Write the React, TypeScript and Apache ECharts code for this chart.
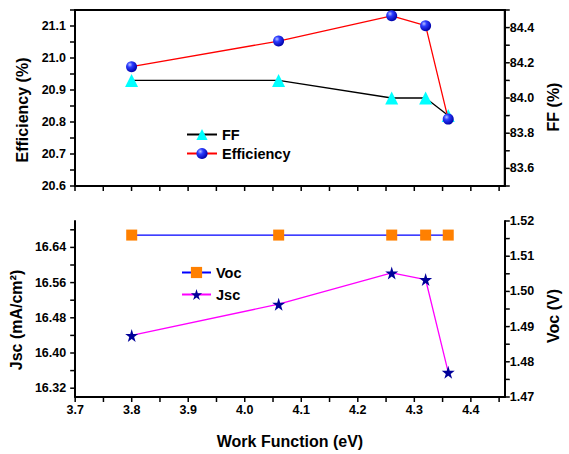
import React, { useEffect, useRef } from 'react';
import * as echarts from 'echarts';

// ---- data ----
const workFunction = [3.8, 4.06, 4.26, 4.32, 4.36];
const efficiency = [20.973, 21.053, 21.132, 21.101, 20.809];
const fillFactor = [84.1, 84.1, 84.0, 84.0, 83.9];
const voc = [1.516, 1.516, 1.516, 1.516, 1.516];
const jsc = [16.44, 16.511, 16.582, 16.567, 16.356];

// ---- tick labels ----
const xLabels = [3.7, 3.8, 3.9, 4.0, 4.1, 4.2, 4.3, 4.4];
const effLabels = [20.6, 20.7, 20.8, 20.9, 21.0, 21.1];
const ffLabels = [83.6, 83.8, 84.0, 84.2, 84.4];
const jscLabels = [16.32, 16.4, 16.48, 16.56, 16.64];
const vocLabels = [1.47, 1.48, 1.49, 1.5, 1.51, 1.52];

// ---- tick marks (major + minor) ----
const xTicks = [3.7, 3.75, 3.8, 3.85, 3.9, 3.95, 4.0, 4.05, 4.1, 4.15, 4.2, 4.25, 4.3, 4.35, 4.4, 4.45];
const effTicks = [20.6, 20.65, 20.7, 20.75, 20.8, 20.85, 20.9, 20.95, 21.0, 21.05, 21.1, 21.15];
const ffTicks = [83.5, 83.6, 83.7, 83.8, 83.9, 84.0, 84.1, 84.2, 84.3, 84.4, 84.5];
const jscTicks = [16.32, 16.36, 16.4, 16.44, 16.48, 16.52, 16.56, 16.6, 16.64, 16.68];
const vocTicks = [1.47, 1.475, 1.48, 1.485, 1.49, 1.495, 1.5, 1.505, 1.51, 1.515, 1.52];

const FONT = "'Liberation Sans', Arial, Helvetica, sans-serif";
const STAR = 'path://M50,0 L61,35 L98,35 L68,57 L79,91 L50,70 L21,91 L32,57 L2,35 L39,35 Z';
const TICK_LEN = 5;

const axisLine = { show: true, onZero: false, lineStyle: { color: '#000', width: 2 } };

function yAxis(
  gridIndex: number,
  position: 'left' | 'right',
  min: number,
  max: number,
  labels: number[],
  digits: number,
  name: string,
  nameGap: number,
  shift: number,
  margin: number
) {
  return {
    type: 'value',
    gridIndex,
    position,
    min,
    max,
    name,
    nameLocation: 'middle',
    nameRotate: 90,
    nameGap,
    nameTextStyle: {
      fontFamily: FONT,
      fontWeight: 'bold',
      fontSize: 16,
      color: '#000',
      padding: [0, shift * 2, 0, 0],
    },
    axisLine,
    axisTick: { show: false },
    axisLabel: {
      show: true,
      customValues: labels,
      margin,
      fontFamily: FONT,
      fontWeight: 'bold',
      fontSize: 12.5,
      color: '#000',
      formatter: (v: number) => v.toFixed(digits),
    },
    splitLine: { show: false },
  };
}

function xAxis(gridIndex: number, showLabels: boolean) {
  return {
    type: 'value',
    gridIndex,
    position: 'bottom',
    min: 3.7,
    max: 4.46,
    name: showLabels ? 'Work Function (eV)' : '',
    nameLocation: 'middle',
    nameGap: 36,
    nameTextStyle: { fontFamily: FONT, fontWeight: 'bold', fontSize: 16, color: '#000' },
    axisLine,
    axisTick: { show: false },
    axisLabel: {
      show: showLabels,
      customValues: xLabels,
      margin: 6,
      fontFamily: FONT,
      fontWeight: 'bold',
      fontSize: 12.5,
      color: '#000',
      formatter: (v: number) => v.toFixed(1),
    },
    splitLine: { show: false },
  };
}

const sphere = new echarts.graphic.RadialGradient(0.35, 0.32, 0.7, [
  { offset: 0, color: '#b8c0ff' },
  { offset: 0.35, color: '#2b3cff' },
  { offset: 1, color: '#0000a8' },
]);

const pairs = (ys: number[]) => workFunction.map((x, i) => [x, ys[i]]);

const legendText = { fontFamily: FONT, fontWeight: 'bold', fontSize: 14.5, color: '#000' };

const yAxes = [
  yAxis(0, 'left', 20.6, 21.15, effLabels, 1, 'Efficiency (%)', 42, 12, 9),
  yAxis(0, 'right', 83.5, 84.5, ffLabels, 1, 'FF (%)', 40, 9, 5),
  yAxis(1, 'left', 16.3, 16.7, jscLabels, 2, 'Jsc (mA/cm²)', 42, 11, 9),
  yAxis(1, 'right', 1.47, 1.52, vocLabels, 2, 'Voc (V)', 37, 7, 5),
];
const xAxes = [xAxis(0, false), xAxis(1, true)];

const option = {
  animation: false,
  backgroundColor: '#fff',
  grid: [
    {
      left: 75,
      top: 10,
      width: 434,
      height: 176,
      show: true,
      borderColor: '#000',
      borderWidth: 2,
      backgroundColor: 'transparent',
    },
    { left: 75, top: 221, width: 437, height: 176 },
  ],
  xAxis: xAxes,
  yAxis: yAxes,
  legend: [
    {
      data: ['FF', 'Efficiency'],
      orient: 'vertical',
      left: 181,
      top: 122,
      itemWidth: 30,
      itemHeight: 14,
      itemGap: 4,
      textStyle: legendText,
    },
    {
      data: ['Voc', 'Jsc'],
      orient: 'vertical',
      left: 176,
      top: 260,
      itemWidth: 29,
      itemHeight: 14,
      itemGap: 7,
      textStyle: legendText,
    },
  ],
  series: [
    {
      name: 'FF',
      type: 'line',
      xAxisIndex: 0,
      yAxisIndex: 1,
      data: pairs(fillFactor),
      symbol: 'triangle',
      symbolSize: 13,
      lineStyle: { color: '#000', width: 1.3 },
      itemStyle: { color: '#00ffff' },
      z: 2,
    },
    {
      name: 'Efficiency',
      type: 'line',
      xAxisIndex: 0,
      yAxisIndex: 0,
      data: pairs(efficiency),
      symbol: 'circle',
      symbolSize: 11,
      lineStyle: { color: '#ff0000', width: 1.3 },
      itemStyle: { color: sphere },
      z: 3,
    },
    {
      name: 'Voc',
      type: 'line',
      xAxisIndex: 1,
      yAxisIndex: 3,
      data: pairs(voc),
      symbol: 'rect',
      symbolSize: 11,
      lineStyle: { color: '#0000ff', width: 1.3 },
      itemStyle: { color: '#ff8000' },
    },
    {
      name: 'Jsc',
      type: 'line',
      xAxisIndex: 1,
      yAxisIndex: 2,
      data: pairs(jsc),
      symbol: STAR,
      symbolSize: 13,
      lineStyle: { color: '#ff00ff', width: 1.3 },
      itemStyle: { color: '#000099' },
    },
  ],
};

function buildTicks(chart: any) {
  const lines: any[] = [];
  const tickStyle = { stroke: '#000', lineWidth: 1.5 };
  const px = (finder: any, v: number) => chart.convertToPixel(finder, v) as number;

  [0, 1].forEach((xi) => {
    const yi = xi === 0 ? 0 : 2;
    const yBase = px({ yAxisIndex: yi }, yAxes[yi].min);
    xTicks.forEach((t) => {
      const x = px({ xAxisIndex: xi }, t);
      lines.push({ type: 'line', silent: true, z: 100, shape: { x1: x, y1: yBase, x2: x, y2: yBase + TICK_LEN }, style: tickStyle });
    });
  });

  const yTickSets = [effTicks, ffTicks, jscTicks, vocTicks];
  yTickSets.forEach((ticks, yi) => {
    const xi = yi < 2 ? 0 : 1;
    const isLeft = yAxes[yi].position === 'left';
    const xBase = px({ xAxisIndex: xi }, isLeft ? xAxes[xi].min : xAxes[xi].max);
    ticks.forEach((t) => {
      const y = px({ yAxisIndex: yi }, t);
      const x2 = isLeft ? xBase - TICK_LEN : xBase + TICK_LEN;
      lines.push({ type: 'line', silent: true, z: 100, shape: { x1: xBase, y1: y, x2, y2: y }, style: tickStyle });
    });
  });
  return lines;
}

export default function App() {
  const ref = useRef<HTMLDivElement>(null);
  useEffect(() => {
    const chart = echarts.init(ref.current!, null, { renderer: 'svg' });
    chart.setOption(option as any);
    chart.setOption({ graphic: buildTicks(chart) } as any);
    return () => chart.dispose();
  }, []);
  return (
    <div
      ref={ref}
      style={{ position: 'fixed', left: 0, top: 0, width: 569, height: 454, background: '#fff' }}
    />
  );
}
